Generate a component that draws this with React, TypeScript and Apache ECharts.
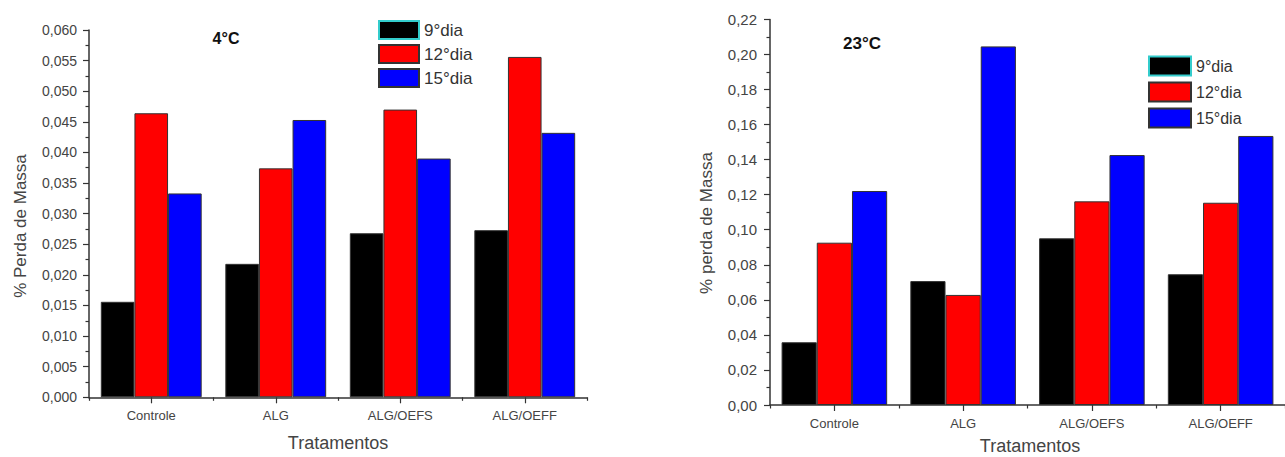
import React, { useEffect, useRef } from "react";
import * as echarts from "echarts";

const categories = ["Controle", "ALG", "ALG/OEFS", "ALG/OEFF"];
const seriesNames = ["9°dia", "12°dia", "15°dia"];
const seriesColors = ["#000000", "#ff0000", "#0000ff"];

// 4°C
const cold9 = [0.0156, 0.0218, 0.0268, 0.0273];
const cold12 = [0.0464, 0.0374, 0.047, 0.0556];
const cold15 = [0.0333, 0.0453, 0.039, 0.0432];

// 23°C
const warm9 = [0.0358, 0.0707, 0.0951, 0.0746];
const warm12 = [0.0926, 0.0628, 0.1162, 0.1154];
const warm15 = [0.1221, 0.2046, 0.1426, 0.1535];

const FONT = "Liberation Sans, Arial, sans-serif";

export default function App() {
  const ref = useRef<HTMLDivElement>(null);

  useEffect(() => {
    if (!ref.current) return;
    const chart = echarts.init(ref.current, undefined, { renderer: "svg" });

    const axisLine = { show: true, lineStyle: { color: "#333", width: 1.5 } };

    const makeY = (gridIndex: number, max: number, interval: number, dec: number, fs: number, margin: number) => ({
      type: "value",
      gridIndex,
      min: 0,
      max,
      interval,
      axisLine,
      splitLine: { show: false },
      axisTick: { show: true, inside: false, length: 6, lineStyle: { color: "#333", width: 1.2 } },
      minorTick: { show: true, splitNumber: 2, length: 3.5, lineStyle: { color: "#333", width: 1.2 } },
      axisLabel: {
        margin,
        fontSize: fs,
        fontFamily: FONT,
        color: "#444",
        formatter: (v: number) => v.toFixed(dec).replace(".", ","),
      },
    });

    const makeXMain = (gridIndex: number) => ({
      type: "category",
      gridIndex,
      data: categories,
      boundaryGap: true,
      axisLine,
      axisTick: { show: true, alignWithLabel: true, length: 6, lineStyle: { color: "#333", width: 1.2 } },
      axisLabel: { margin: 12, fontSize: 13, fontFamily: FONT, color: "#444" },
    });
    const makeXMinor = (gridIndex: number) => ({
      type: "category",
      gridIndex,
      data: categories,
      boundaryGap: true,
      position: "bottom",
      axisLine: { show: false },
      axisTick: { show: true, length: 3.5, lineStyle: { color: "#333", width: 1.2 } },
      axisLabel: { show: false },
    });

    const makeSeries = (name: string, color: string, data: number[], xi: number, yi: number, gap: string) => ({
      type: "bar",
      name,
      xAxisIndex: xi,
      yAxisIndex: yi,
      data,
      barGap: "0%",
      barCategoryGap: gap,
      itemStyle: { color, borderColor: "#333", borderWidth: 1 },
    });

    const legendData = [
      { name: seriesNames[0], itemStyle: { borderColor: "#3cc" } },
      { name: seriesNames[1] },
      { name: seriesNames[2] },
    ];

    chart.setOption({
      animation: false,
      backgroundColor: "#ffffff",
      grid: [
        { left: 89, top: 30, width: 498, height: 367.3 },
        { left: 770, top: 19.4, width: 520, height: 385.6 },
      ],
      xAxis: [makeXMain(0), makeXMinor(0), makeXMain(1), makeXMinor(1)],
      yAxis: [makeY(0, 0.06, 0.005, 3, 14, 12), makeY(1, 0.22, 0.02, 2, 15, 13)],
      legend: [
        {
          orient: "vertical",
          left: 378,
          top: 20,
          padding: 0,
          itemWidth: 40,
          itemHeight: 18,
          itemGap: 4,
          icon: "rect",
          textStyle: { fontSize: 17, fontFamily: FONT, color: "#333" },
          data: legendData,
        },
        {
          orient: "vertical",
          left: 1148,
          top: 55.5,
          padding: 0,
          itemWidth: 42,
          itemHeight: 19,
          itemGap: 5,
          icon: "rect",
          textStyle: { fontSize: 16, fontFamily: FONT, color: "#333" },
          data: legendData,
        },
      ],
      series: [
        makeSeries(seriesNames[0], seriesColors[0], cold9, 0, 0, "19%"),
        makeSeries(seriesNames[1], seriesColors[1], cold12, 0, 0, "19%"),
        makeSeries(seriesNames[2], seriesColors[2], cold15, 0, 0, "19%"),
        makeSeries(seriesNames[0], seriesColors[0], warm9, 2, 1, "18%"),
        makeSeries(seriesNames[1], seriesColors[1], warm12, 2, 1, "18%"),
        makeSeries(seriesNames[2], seriesColors[2], warm15, 2, 1, "18%"),
      ],
      graphic: [
        {
          type: "text",
          x: 226,
          y: 38,
          style: { text: "4°C", font: `bold 16px ${FONT}`, fill: "#111", align: "center", verticalAlign: "middle" },
        },
        {
          type: "text",
          x: 862,
          y: 43,
          style: { text: "23°C", font: `bold 17px ${FONT}`, fill: "#111", align: "center", verticalAlign: "middle" },
        },
        {
          type: "text",
          x: 20,
          y: 226,
          rotation: Math.PI / 2,
          style: { text: "% Perda de Massa", font: `17px ${FONT}`, fill: "#444", align: "center", verticalAlign: "middle" },
        },
        {
          type: "text",
          x: 706,
          y: 223,
          rotation: Math.PI / 2,
          style: { text: "% perda de Massa", font: `17px ${FONT}`, fill: "#444", align: "center", verticalAlign: "middle" },
        },
        {
          type: "text",
          x: 338,
          y: 443,
          style: { text: "Tratamentos", font: `18px ${FONT}`, fill: "#444", align: "center", verticalAlign: "middle" },
        },
        {
          type: "text",
          x: 1030,
          y: 446,
          style: { text: "Tratamentos", font: `18px ${FONT}`, fill: "#444", align: "center", verticalAlign: "middle" },
        },
      ],
    });

    return () => chart.dispose();
  }, []);

  return (
    <div
      ref={ref}
      style={{ position: "absolute", left: 0, top: 0, width: 1285, height: 457, background: "#fff" }}
    />
  );
}
